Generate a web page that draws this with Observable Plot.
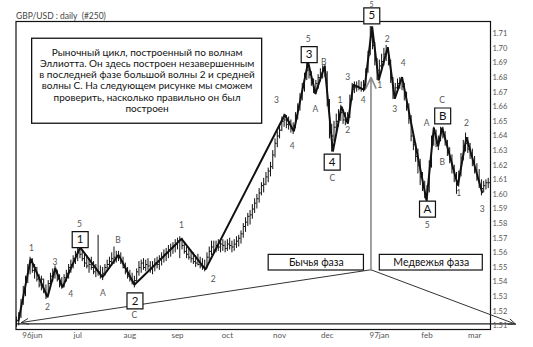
<!DOCTYPE html>
<html><head><meta charset="utf-8">
<script src="https://cdn.jsdelivr.net/npm/d3@7"></script>
<script src="https://cdn.jsdelivr.net/npm/@observablehq/plot@0.6"></script>
<style>body{margin:0;background:#fff}</style>
</head><body><div id="chart"></div>
<script>
// ---- data ----
const barLow = [
1.5090,1.5100,1.5150,1.5240,1.5300,1.5390,1.5450,1.5460,1.5420,1.5400,
1.5360,1.5340,1.5320,1.5280,1.5300,1.5360,1.5400,1.5420,1.5400,1.5360,
1.5350,1.5360,1.5400,1.5420,1.5460,1.5490,1.5520,1.5540,1.5560,1.5540,
1.5500,1.5490,1.5460,1.5480,1.5450,1.5430,1.5440,1.5420,1.5410,1.5440,
1.5470,1.5490,1.5510,1.5520,1.5530,1.5540,1.5520,1.5490,1.5450,1.5420,
1.5400,1.5380,1.5360,1.5400,1.5440,1.5460,1.5480,1.5470,1.5480,1.5460,
1.5450,1.5470,1.5490,1.5480,1.5510,1.5530,1.5540,1.5560,1.5570,1.5590,
1.5600,1.5620,1.5560,1.5620,1.5590,1.5560,1.5550,1.5530,1.5520,1.5500,
1.5510,1.5490,1.5480,1.5470,1.5490,1.5540,1.5580,1.5590,1.5600,1.5610,
1.5600,1.5610,1.5600,1.5610,1.5620,1.5600,1.5610,1.5630,1.5640,1.5660,
1.5700,1.5740,1.5780,1.5790,1.5830,1.5870,1.5900,1.5940,1.5990,1.6010,
1.6060,1.6080,1.6120,1.6170,1.6250,1.6320,1.6380,1.6430,1.6460,1.6450,
1.6440,1.6420,1.6410,1.6450,1.6510,1.6570,1.6640,1.6700,1.6780,1.6790,
1.6740,1.6690,1.6680,1.6720,1.6770,1.6790,1.6800,1.6600,1.6380,1.6290,
1.6360,1.6420,1.6460,1.6500,1.6480,1.6470,1.6480,1.6520,1.6640,1.6690,
1.6700,1.6710,1.6700,1.6700,1.6740,1.6830,1.6950,1.6990,1.6880,1.6780,
1.6800,1.6840,1.6880,1.6910,1.6880,1.6760,1.6650,1.6660,1.6700,1.6720,
1.6710,1.6640,1.6570,1.6480,1.6360,1.6300,1.6220,1.6140,1.6060,1.6020,
1.5970,1.5950,1.6010,1.6180,1.6330,1.6320,1.6300,1.6360,1.6380,1.6330,
1.6260,1.6210,1.6140,1.6080,1.6000,1.6050,1.6120,1.6230,1.6290,1.6280,
1.6240,1.6190,1.6140,1.6090,1.6040,1.5990,1.6010,1.6030,1.6040];
const barHigh = [
1.5160,1.5190,1.5280,1.5370,1.5440,1.5520,1.5570,1.5560,1.5520,1.5500,
1.5450,1.5440,1.5420,1.5380,1.5410,1.5460,1.5490,1.5510,1.5480,1.5450,
1.5430,1.5450,1.5480,1.5520,1.5550,1.5580,1.5610,1.5630,1.5650,1.5620,
1.5590,1.5580,1.5560,1.5570,1.5540,1.5520,1.5720,1.5510,1.5500,1.5520,
1.5550,1.5570,1.5600,1.5640,1.5610,1.5610,1.5600,1.5570,1.5530,1.5500,
1.5480,1.5460,1.5440,1.5490,1.5540,1.5550,1.5560,1.5550,1.5560,1.5540,
1.5540,1.5560,1.5570,1.5580,1.5600,1.5620,1.5630,1.5650,1.5660,1.5670,
1.5690,1.5700,1.5710,1.5700,1.5670,1.5640,1.5630,1.5610,1.5600,1.5580,
1.5590,1.5570,1.5560,1.5550,1.5600,1.5640,1.5680,1.5680,1.5680,1.5690,
1.5680,1.5690,1.5680,1.5690,1.5700,1.5680,1.5690,1.5710,1.5720,1.5750,
1.5800,1.5840,1.5870,1.5890,1.5930,1.5970,1.6000,1.6040,1.6080,1.6110,
1.6150,1.6180,1.6220,1.6300,1.6380,1.6430,1.6480,1.6530,1.6550,1.6540,
1.6530,1.6510,1.6490,1.6560,1.6620,1.6690,1.6760,1.6830,1.6910,1.6880,
1.6840,1.6790,1.6780,1.6820,1.6860,1.6880,1.6890,1.6840,1.6650,1.6480,
1.6500,1.6550,1.6580,1.6610,1.6580,1.6560,1.6560,1.6680,1.6760,1.6770,
1.6770,1.6780,1.6770,1.6780,1.6860,1.6980,1.7150,1.7130,1.7040,1.6930,
1.6920,1.6960,1.7000,1.7020,1.7000,1.6920,1.6800,1.6760,1.6790,1.6800,
1.6800,1.6760,1.6700,1.6620,1.6540,1.6420,1.6350,1.6310,1.6240,1.6150,
1.6090,1.6060,1.6230,1.6400,1.6460,1.6440,1.6400,1.6460,1.6460,1.6430,
1.6370,1.6320,1.6270,1.6200,1.6150,1.6160,1.6280,1.6370,1.6420,1.6390,
1.6350,1.6310,1.6260,1.6210,1.6170,1.6100,1.6090,1.6100,1.6110];
const barClose = [
1.5135,1.5170,1.5260,1.5340,1.5420,1.5490,1.5540,1.5480,1.5500,1.5420,
1.5380,1.5420,1.5340,1.5310,1.5390,1.5440,1.5450,1.5480,1.5420,1.5380,
1.5370,1.5430,1.5460,1.5500,1.5520,1.5560,1.5580,1.5600,1.5590,1.5560,
1.5530,1.5510,1.5520,1.5500,1.5470,1.5480,1.5470,1.5440,1.5460,1.5500,
1.5520,1.5540,1.5560,1.5570,1.5580,1.5570,1.5540,1.5500,1.5470,1.5440,
1.5420,1.5400,1.5410,1.5470,1.5500,1.5530,1.5500,1.5520,1.5510,1.5490,
1.5510,1.5530,1.5520,1.5560,1.5570,1.5590,1.5600,1.5620,1.5630,1.5650,
1.5660,1.5680,1.5690,1.5650,1.5610,1.5590,1.5570,1.5560,1.5540,1.5530,
1.5520,1.5510,1.5500,1.5490,1.5570,1.5610,1.5640,1.5620,1.5650,1.5640,
1.5660,1.5650,1.5630,1.5660,1.5650,1.5640,1.5660,1.5680,1.5700,1.5730,
1.5780,1.5810,1.5850,1.5860,1.5900,1.5940,1.5970,1.6010,1.6060,1.6070,
1.6120,1.6160,1.6190,1.6270,1.6350,1.6400,1.6440,1.6500,1.6510,1.6480,
1.6500,1.6450,1.6470,1.6540,1.6600,1.6660,1.6730,1.6800,1.6850,1.6820,
1.6760,1.6720,1.6760,1.6800,1.6830,1.6850,1.6820,1.6640,1.6420,1.6400,
1.6460,1.6500,1.6540,1.6560,1.6510,1.6500,1.6530,1.6650,1.6720,1.6730,
1.6740,1.6730,1.6720,1.6750,1.6840,1.6950,1.7080,1.7020,1.6920,1.6850,
1.6880,1.6910,1.6960,1.6980,1.6920,1.6800,1.6690,1.6730,1.6760,1.6780,
1.6740,1.6680,1.6600,1.6520,1.6400,1.6340,1.6260,1.6200,1.6120,1.6060,
1.6000,1.6030,1.6200,1.6360,1.6420,1.6350,1.6380,1.6430,1.6400,1.6360,
1.6290,1.6240,1.6180,1.6130,1.6070,1.6140,1.6250,1.6330,1.6350,1.6310,
1.6270,1.6230,1.6170,1.6110,1.6060,1.6040,1.6060,1.6080,1.6080];

// Elliott wave zigzag (bar index, price)
const waveIdx   = [0.9,6.3,13.7,17.1,20.3,28.1,37.9,45,52,72.8,83.3,118.3,122.3,128.6,131.8,135.9,139.5,143.3,146.1,148.5,153.4,156.8,159.7,163.7,166.8,170,180.8,184,185.9,187.7,194.6,198.4,205.3];
const wavePrice = [1.5136,1.5559,1.5296,1.5495,1.5364,1.5638,1.5433,1.5586,1.5381,1.5696,1.5486,1.6545,1.6432,1.6905,1.6689,1.6878,1.6294,1.6602,1.6484,1.6751,1.6716,1.7150,1.6780,1.7008,1.6655,1.6803,1.5958,1.6456,1.6330,1.6456,1.6061,1.6392,1.6015];

// small wave labels
const labelText  = ["1","2","3","4","5","A","B","C","1","2","3","4","5","A","B","C","1","2","3","4","5","1","2","3","4","5","A","B","C","1","2","3"];
const labelIdx   = [6.6,13.7,17.0,23.9,27.8,38.1,44.8,52.0,72.8,86.7,114.6,121.6,128.6,131.8,135.5,139.3,142.6,146.1,146.1,152.9,156.5,160.2,163.5,166.8,170.5,181.1,180.8,187.7,187.7,195.0,198.4,205.3];
const labelPrice = [1.5630,1.5229,1.5534,1.5319,1.5794,1.5321,1.5689,1.5171,1.5792,1.5422,1.6643,1.6328,1.7061,1.6586,1.6903,1.6111,1.6643,1.6438,1.6799,1.6648,1.7302,1.6746,1.7059,1.6586,1.6901,1.5792,1.6484,1.6219,1.6648,1.6008,1.6488,1.5901];

// boxed wave labels
const boxText  = ["1","2","3","4","5","A","B"];
const boxIdx   = [28.1,52.25,129.06,139.2,156.66,181.22,187.92];
const boxPrice = [1.5690,1.5271,1.6957,1.6221,1.7223,1.5899,1.6537];

const monthLabels = ["96jun","jul","aug","sep","oct","nov","dec","97jan","feb","mar"];
const monthIdx    = [7,27,50,71,93,116,137,160,181,202];
const priceTicks  = [1.51,1.52,1.53,1.54,1.55,1.56,1.57,1.58,1.59,1.60,1.61,1.62,1.63,1.64,1.65,1.66,1.67,1.68,1.69,1.70,1.71];

const titleText = "GBP/USD : daily  (#250)";
const noteLines = ["Рыночный цикл, построенный по волнам","Эллиотта. Он здесь построен незавершенным","в последней фазе большой волны 2 и средней","волны С. На следующем рисунке мы сможем","проверить, насколько правильно он был","построен"];
const phaseLabels = ["Бычья фаза","Медвежья фаза"];

// ---- tables ----
const bars = barLow.map((lo,i)=>({i, low:lo, high:barHigh[i], close:barClose[i]}));
const wave = waveIdx.map((x,k)=>({x, y:wavePrice[k]}));
const labels = labelText.map((t,k)=>({t, x:labelIdx[k], y:labelPrice[k], top:k===20}));
const boxes = boxText.map((t,k)=>({t, x:boxIdx[k], y:boxPrice[k]}));
const months = monthLabels.map((t,k)=>({t, x:monthIdx[k]}));

// annotation geometry in data coordinates
const apex = {x:156.3, y:1.5484};
const noteBox = {x1:6.92, x2:108.33, y1:1.6484, y2:1.7066};
const phaseBoxes = [
  {t:phaseLabels[0], x1:111.2, x2:153.2, y1:1.5479, y2:1.5586},
  {t:phaseLabels[1], x1:160.2, x2:205.6, y1:1.5479, y2:1.5586}
];

const chart = Plot.plot({
  width:533, height:347,
  marginLeft:15.5, marginRight:43, marginTop:21, marginBottom:18,
  x:{domain:[-0.2,209], axis:null},
  y:{domain:[1.5075,1.7184], axis:null},
  style:{fontFamily:"Lato, 'DejaVu Sans', sans-serif", background:"white", overflow:"visible"},
  marks:[
    Plot.frame({stroke:"#111", strokeWidth:1.2}),
    Plot.link([{x1:-0.2,x2:220,y:1.5113}], {x1:"x1", x2:"x2", y1:"y", y2:"y", stroke:"#222", strokeWidth:1.2}),
    Plot.arrow([{x1:apex.x,y1:apex.y,x2:2.2,y2:1.5123},{x1:apex.x,y1:apex.y,x2:220,y2:1.5112}],
      {x1:"x1",y1:"y1",x2:"x2",y2:"y2", stroke:"#333", strokeWidth:1, headLength:11, headAngle:45}),
    Plot.arrow([{x1:apex.x,y1:apex.y,x2:apex.x,y2:1.6801}],
      {x1:"x1",y1:"y1",x2:"x2",y2:"y2", stroke:"#8a8a8a", strokeWidth:1.6, headLength:11, headAngle:50}),
    Plot.ruleX(bars, {x:"i", y1:"low", y2:"high", stroke:"#111", strokeWidth:1}),
    Plot.link(bars, {x1:"i", x2:d=>d.i+0.75, y1:"close", y2:"close", stroke:"#111", strokeWidth:1}),
    Plot.line(wave, {x:"x", y:"y", stroke:"#111", strokeWidth:2, strokeLinejoin:"miter"}),
    Plot.rect([noteBox], {x1:"x1",x2:"x2",y1:"y1",y2:"y2", fill:"white", stroke:"#111", strokeWidth:1.3}),
    Plot.text([noteLines.join("\n")], {x:57.6, y:1.6782, text:d=>d, fontSize:10, lineHeight:1.13, fill:"#111", lineAnchor:"middle"}),
    Plot.rect(phaseBoxes, {x1:"x1",x2:"x2",y1:"y1",y2:"y2", fill:"white", stroke:"#111", strokeWidth:1.2}),
    Plot.text(phaseBoxes, {x:d=>(d.x1+d.x2)/2, y:d=>(d.y1+d.y2)/2, text:"t", fontSize:10.5, fill:"#111"}),
    Plot.dot(boxes, {x:"x", y:"y", symbol:"square", r:9, fill:"white", stroke:"#111", strokeWidth:1.2}),
    Plot.text(boxes, {x:"x", y:"y", text:"t", fontSize:11.5, fill:"#111"}),
    Plot.text(labels, {x:"x", y:"y", text:"t", fontSize:d=>d.top?7:8.5, fill:"#555"}),
    Plot.text(months, {x:"x", text:"t", frameAnchor:"bottom", dy:6, lineAnchor:"middle", fontSize:8, fill:"#555"}),
    Plot.text(priceTicks, {y:d=>d, text:d=>d.toFixed(2), frameAnchor:"right", dx:2, textAnchor:"start", fontSize:7.5, fill:"#555"}),
    Plot.text([titleText], {frameAnchor:"top-left", text:d=>d, dy:-5, lineAnchor:"middle", textAnchor:"start", fontSize:8.5, fill:"#444"})
  ]
});
document.getElementById("chart").appendChild(chart);
</script>
</body></html>
